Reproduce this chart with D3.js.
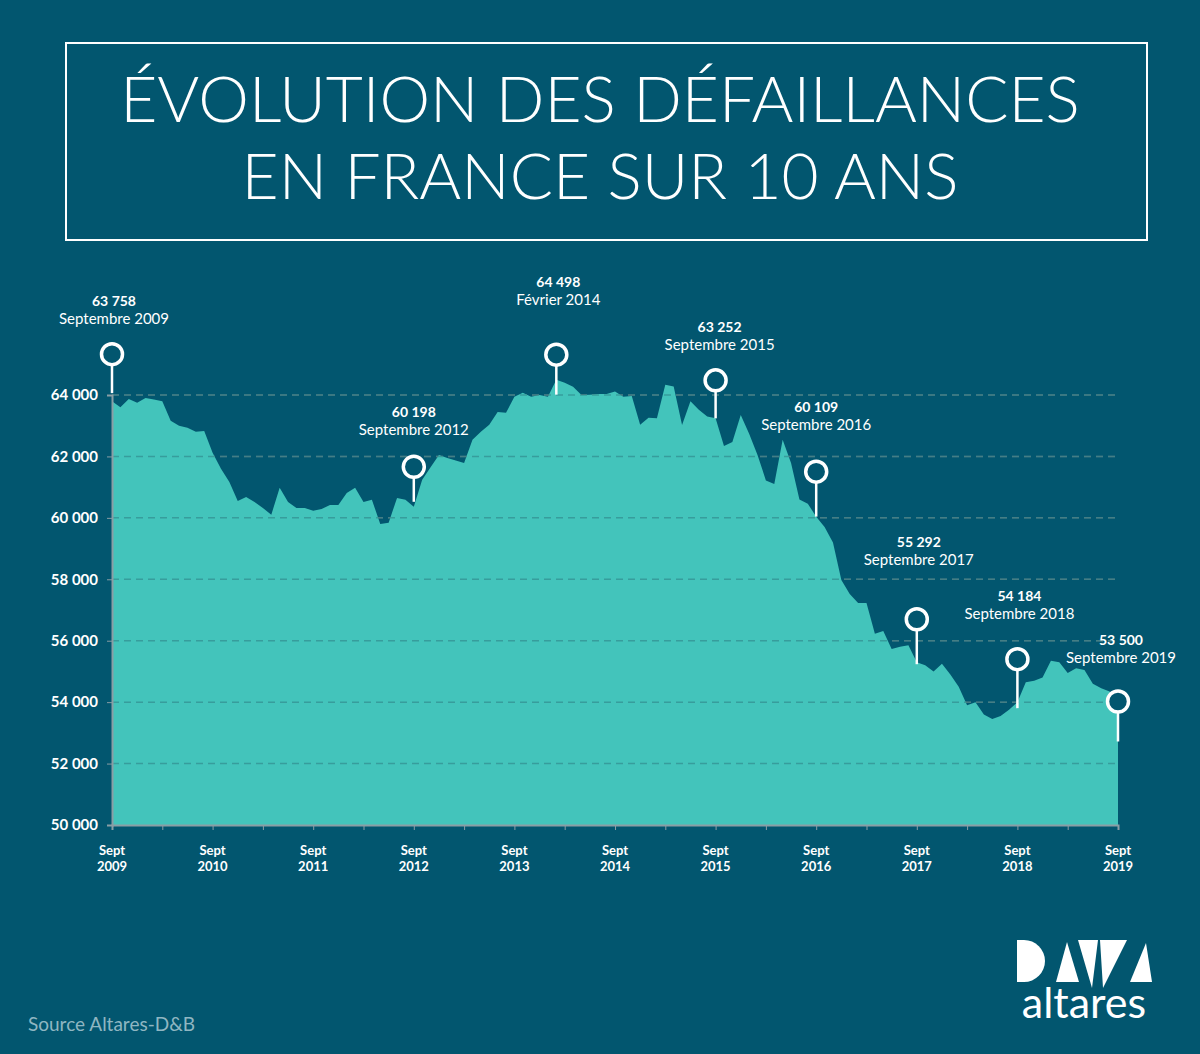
<!DOCTYPE html>
<html>
<head>
<meta charset="utf-8">
<script src="https://cdn.jsdelivr.net/npm/d3@7"></script>
<style>
	body { margin: 0; background: #02566f; }
	svg { display: block; }
</style>
</head>
<body>
<div id="chart"></div>
<script>
// monthly defaults, Sept 2009 (index 0) to Sept 2019 (index 120)
const values = [
	63800, 63600, 63870, 63750, 63900, 63850, 63800, 63160, 63000, 62930,
	62800, 62830, 62120, 61600, 61170, 60550, 60680, 60520, 60320, 60100,
	60980, 60520, 60320, 60320, 60230, 60290, 60420, 60420, 60810, 60980,
	60520, 60590, 59800, 59840, 60650, 60590, 60360, 61240, 61650, 62050,
	61950, 61870, 61790, 62540, 62800, 63030, 63450, 63420, 63940, 64070,
	63940, 64000, 63940, 64500, 64400, 64270, 64000, 64010, 64030, 64030,
	64110, 63940, 63970, 63030, 63260, 63240, 64330, 64280, 63020, 63800,
	63520, 63300, 63240, 62340, 62470, 63350, 62740, 62050, 61220, 61100,
	62540, 61790, 60600, 60460, 60040, 59700, 59200, 57980, 57520, 57230,
	57230, 56230, 56320, 55730, 55800, 55850, 55300, 55200, 55000, 55250,
	54900, 54500, 53900, 54000, 53600, 53450, 53550, 53750, 54000, 54650,
	54700, 54800, 55350, 55300, 54950, 55100, 55050, 54600, 54450, 54350,
	53500
]
const yTicks = [50000, 52000, 54000, 56000, 58000, 60000, 62000, 64000]
const xYears = ['2009', '2010', '2011', '2012', '2013', '2014', '2015', '2016', '2017', '2018', '2019']

const annotMonths = [0, 36, 53, 72, 84, 96, 108, 120]
const annotValues = ['63 758', '60 198', '64 498', '63 252', '60 109', '55 292', '54 184', '53 500']
const annotLabels = ['Septembre 2009', 'Septembre 2012', 'Février 2014', 'Septembre 2015',
	'Septembre 2016', 'Septembre 2017', 'Septembre 2018', 'Septembre 2019']

// layout of the pins: [stem bottom shift, circle lift, text lift, text dx]
const pinLayout = [
	[-8, 47, 30, 2], [-5, 40, 32, 0], [15, 25, 50, 2], [0, 38, 30, 4],
	[0, 45, 42, 0], [2, 43, 54, 2], [6, 43, 40, 2], [24, 16, 39, 3]
]

const W = 1200, H = 1054

const svg = d3.select('#chart').append('svg').attr('width', W).attr('height', H)
svg.append('rect').attr('width', W).attr('height', H).attr('fill', '#02566f')

// title
svg.append('rect')
	.attr('x', 66).attr('y', 43).attr('width', 1081).attr('height', 197)
	.attr('fill', 'none').attr('stroke', '#fff').attr('stroke-width', 2)

const title = svg.append('text')
	.attr('text-anchor', 'middle')
	.attr('fill', '#fff')
	.style('font-family', 'Lato, sans-serif')
	.style('font-weight', 300)
	.style('font-size', '64px')
title.append('tspan').attr('x', 600).attr('y', 122).text('ÉVOLUTION DES DÉFAILLANCES')
title.append('tspan').attr('x', 600).attr('y', 199).text('EN FRANCE SUR 10 ANS')

const x = d3.scaleLinear().domain([0, 120]).range([112, 1118])
const y = d3.scaleLinear().domain([50000, 64000]).range([825, 395])

const grid = (stroke, opacity) => svg.append('g')
	.selectAll('line')
	.data(yTicks.slice(1))
	.join('line')
	.attr('x1', x(0)).attr('x2', x(120))
	.attr('y1', d => y(d)).attr('y2', d => y(d))
	.attr('stroke', stroke).attr('stroke-opacity', opacity)
	.attr('stroke-width', 1.5).attr('stroke-dasharray', '7,5')

grid('#5f7f88', 1)

// area
const area = d3.area()
	.x((d, i) => x(i))
	.y0(y(50000))
	.y1(d => y(d))

svg.append('path').datum(values).attr('d', area).attr('fill', '#43c4bb')

// dashes stay visible over the fill
grid('#2e7d84', 0.55)

// axes
const yAxis = svg.append('g')
	.attr('transform', `translate(${x(0)},0)`)
	.call(d3.axisLeft(y).tickValues(yTicks).tickSize(5).tickFormat(d => d3.format(',')(d).replace(',', ' ')))
yAxis.select('.domain').attr('stroke', '#8a9ea5').attr('stroke-width', 2)
yAxis.selectAll('.tick line').attr('stroke', '#8a9ea5')
yAxis.selectAll('text')
	.attr('fill', '#fff').attr('x', -14)
	.style('font-family', 'Lato, sans-serif').style('font-size', '15px').style('font-weight', 700)

const xAxis = svg.append('g')
	.attr('transform', `translate(0,${y(50000)})`)
	.call(d3.axisBottom(x).tickValues(d3.range(0, 121, 6)).tickSize(5).tickFormat(''))
xAxis.select('.domain').attr('stroke', '#8a9ea5').attr('stroke-width', 2)
xAxis.selectAll('.tick line').attr('stroke', '#8a9ea5')

const xl = svg.append('g')
	.selectAll('text')
	.data(xYears)
	.join('text')
	.attr('text-anchor', 'middle')
	.attr('fill', '#fff')
	.style('font-family', 'Lato, sans-serif').style('font-size', '13px').style('font-weight', 700)
xl.append('tspan').attr('x', (d, i) => x(i * 12)).attr('y', 855).text('Sept')
xl.append('tspan').attr('x', (d, i) => x(i * 12)).attr('y', 871).text(d => d)

// pins
const pins = svg.append('g')
annotMonths.forEach((m, i) => {
	const [shift, lift, tlift, dx] = pinLayout[i]
	const px = x(m)
	const base = y(values[m]) + shift
	const cy = y(values[m]) - lift
	pins.append('line')
		.attr('x1', px).attr('x2', px).attr('y1', cy).attr('y2', base)
		.attr('stroke', '#fff').attr('stroke-width', 2.5)
	pins.append('circle')
		.attr('cx', px).attr('cy', cy).attr('r', 10.5)
		.attr('fill', '#02566f').attr('stroke', '#fff').attr('stroke-width', 3.5)
	const t = pins.append('text')
		.attr('text-anchor', 'middle').attr('fill', '#fff')
		.style('font-family', 'Lato, sans-serif')
	t.append('tspan').attr('x', px + dx).attr('y', cy - tlift - 18)
		.style('font-size', '14px').style('font-weight', 700).text(annotValues[i])
	t.append('tspan').attr('x', px + dx).attr('y', cy - tlift)
		.style('font-size', '15px').text(annotLabels[i])
})

// source
svg.append('text')
	.attr('x', 28).attr('y', 1031)
	.attr('fill', '#8fb6c2')
	.style('font-family', 'Lato, sans-serif').style('font-size', '19px')
	.text('Source Altares-D&B')

// logo
const logo = svg.append('g').attr('fill', '#fff')
logo.append('path').attr('d', 'M1017,940 L1024,940 A21,21 0 0 1 1024,982 L1017,982 Z')
logo.append('path').attr('d', 'M1056,982 L1067,942 L1079,982 Z')
logo.append('path').attr('d', 'M1078,940 L1098,940 L1092,988 Z')
logo.append('path').attr('d', 'M1100,940 L1127,940 L1103,988 Z')
logo.append('path').attr('d', 'M1130,982 L1146,943 L1152,982 Z')
logo.append('text')
	.attr('x', 1084).attr('y', 1018).attr('text-anchor', 'middle')
	.style('font-family', 'Lato, sans-serif').style('font-size', '43px').style('font-weight', 400)
	.text('altares')
</script>
</body>
</html>
